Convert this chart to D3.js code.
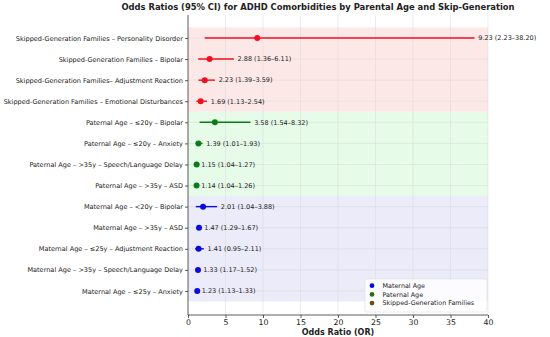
<!DOCTYPE html>
<html><head><meta charset="utf-8">
<script src="https://cdn.jsdelivr.net/npm/d3@7"></script>
<style>body{margin:0;background:#fff}svg{display:block}text{font-family:"DejaVu Sans",sans-serif}</style>
</head><body><svg id="c" width="550" height="337"></svg>
<script>
// Data (top to bottom)
const labels = [
  "Skipped-Generation Families – Personality Disorder",
  "Skipped-Generation Families – Bipolar",
  "Skipped-Generation Families– Adjustment Reaction",
  "Skipped-Generation Families – Emotional Disturbances",
  "Paternal Age – ≤20y – Bipolar",
  "Paternal Age – ≤20y – Anxiety",
  "Paternal Age – >35y – Speech/Language Delay",
  "Paternal Age – >35y – ASD",
  "Maternal Age – <20y – Bipolar",
  "Maternal Age – >35y – ASD",
  "Maternal Age – ≤25y – Adjustment Reaction",
  "Maternal Age – >35y – Speech/Language Delay",
  "Maternal Age – ≤25y – Anxiety"
];
const groups = ["Skipped","Skipped","Skipped","Skipped","Paternal","Paternal","Paternal","Paternal","Maternal","Maternal","Maternal","Maternal","Maternal"];
const oddsRatio = [9.23, 2.88, 2.23, 1.69, 3.58, 1.39, 1.15, 1.14, 2.01, 1.47, 1.41, 1.33, 1.23];
const ciLower   = [2.23, 1.36, 1.39, 1.13, 1.54, 1.01, 1.04, 1.04, 1.04, 1.29, 0.95, 1.17, 1.13];
const ciUpper   = [38.20, 6.11, 3.59, 2.54, 8.32, 1.93, 1.27, 1.26, 3.88, 1.67, 2.11, 1.52, 1.33];
const xTicks = [0, 5, 10, 15, 20, 25, 30, 35, 40];
const legendNames = ["Maternal Age", "Paternal Age", "Skipped-Generation Families"];

const groupColor = {Skipped:"#f01020", Paternal:"#0a7d1a", Maternal:"#0a0ae0"};
const bandColor = {Skipped:"#fde8e8", Paternal:"#e6fbe8", Maternal:"#ebebfa"};
const legendColor = ["#0a0ae0", "#2d6a22", "#6b5010"];

const svg = d3.select("#c");
const L = 188, R = 488, T = 15, B = 315;
const x = d3.scaleLinear().domain([0, 40]).range([L, R]);
const y = d3.scaleLinear().domain([-1.09, 13.14]).range([T, B]);

// bands
const bandDefs = [["Skipped",0,3],["Paternal",4,7],["Maternal",8,12]];
svg.append("g").selectAll("rect").data(bandDefs).join("rect")
  .attr("x", L).attr("width", R - L)
  .attr("y", d => y(d[1] - 0.5)).attr("height", d => y(d[2] + 0.5) - y(d[1] - 0.5))
  .attr("fill", d => bandColor[d[0]]);

// grid
const grid = svg.append("g").attr("stroke", "#d8d8d8").attr("stroke-width", 0.6).attr("opacity", 0.8);
grid.selectAll("line.v").data(xTicks.slice(1)).join("line").attr("class","v")
  .attr("x1", d => x(d)).attr("x2", d => x(d)).attr("y1", T).attr("y2", B);
grid.selectAll("line.h").data(labels.map((_, i) => i)).join("line").attr("class","h")
  .attr("x1", L).attr("x2", R).attr("y1", d => y(d)).attr("y2", d => y(d));

// axes
const xAxis = d3.axisBottom(x).tickValues(xTicks).tickSize(3).tickPadding(1.5);
const gx = svg.append("g").attr("transform", `translate(0,${B})`).call(xAxis);
gx.selectAll("text").attr("font-size", 7.8).attr("fill", "#222").attr("font-family", "DejaVu Sans");
gx.select(".domain").attr("stroke", "#333").attr("stroke-width", 0.8).attr("d", `M${L},0H${R}`);
gx.selectAll(".tick line").attr("stroke", "#333").attr("stroke-width", 0.8);

const yAxis = d3.axisLeft(y).tickValues(labels.map((_, i) => i)).tickFormat(i => labels[i]).tickSize(3).tickPadding(2);
const gy = svg.append("g").attr("transform", `translate(${L},0)`).call(yAxis);
gy.selectAll("text").attr("font-size", 6.55).attr("fill", "#222").attr("font-family", "DejaVu Sans");
gy.select(".domain").attr("stroke", "#333").attr("stroke-width", 0.8).attr("d", `M0,${T}V${B}`);
gy.selectAll(".tick line").attr("stroke", "#333").attr("stroke-width", 0.8);

// error bars and points
const idx = labels.map((_, i) => i);
svg.append("g").selectAll("line").data(idx).join("line")
  .attr("x1", i => x(ciLower[i])).attr("x2", i => x(ciUpper[i]))
  .attr("y1", i => y(i)).attr("y2", i => y(i))
  .attr("stroke", i => groupColor[groups[i]]).attr("stroke-width", 1.4);
svg.append("g").selectAll("circle").data(idx).join("circle")
  .attr("cx", i => x(oddsRatio[i])).attr("cy", i => y(i)).attr("r", 3)
  .attr("fill", i => groupColor[groups[i]]);
svg.append("g").selectAll("text").data(idx).join("text")
  .attr("x", i => x(ciUpper[i] + 0.5)).attr("y", i => y(i)).attr("dy", "0.35em")
  .attr("font-size", 6.5).attr("fill", "#222")
  .text(i => `${oddsRatio[i].toFixed(2)} (${ciLower[i].toFixed(2)}–${ciUpper[i].toFixed(2)})`);

// title & x label
svg.append("text").attr("x", 318).attr("y", 10).attr("text-anchor", "middle")
  .attr("font-size", 8.4).attr("font-weight", "bold").attr("fill", "#222")
  .text("Odds Ratios (95% CI) for ADHD Comorbidities by Parental Age and Skip-Generation");
svg.append("text").attr("x", (L + R) / 2).attr("y", 335).attr("text-anchor", "middle")
  .attr("font-size", 8).attr("font-weight", "bold").attr("fill", "#222")
  .text("Odds Ratio (OR)");

// legend
const lg = svg.append("g");
lg.append("rect").attr("x", 365).attr("y", 279).attr("width", 122).attr("height", 33)
  .attr("fill", "#fff").attr("fill-opacity", 0.85).attr("stroke", "#ddd").attr("stroke-width", 0.6).attr("rx", 2);
legendNames.forEach((n, k) => {
  lg.append("circle").attr("cx", 372).attr("cy", 285.7 + k * 8.7).attr("r", 2.4).attr("fill", legendColor[k]);
  lg.append("text").attr("x", 382.5).attr("y", 285.7 + k * 8.7).attr("dy", "0.35em")
    .attr("font-size", 6.4).attr("fill", "#222").text(n);
});
</script></body></html>
